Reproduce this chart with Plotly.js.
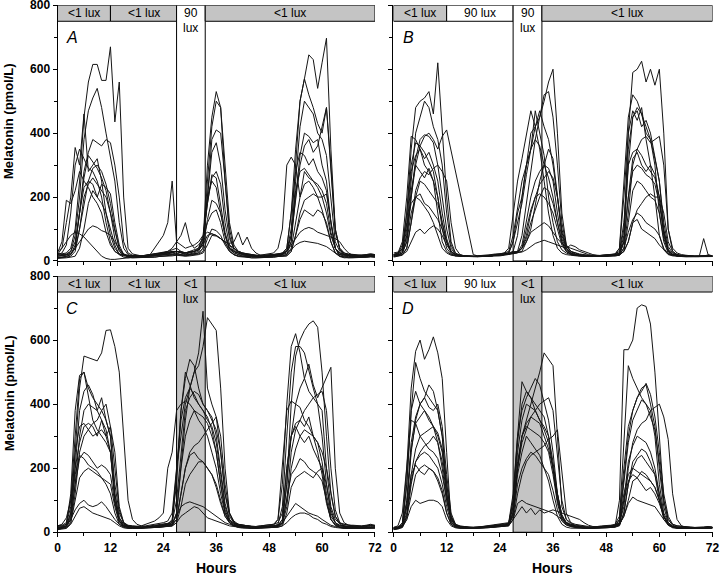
<!DOCTYPE html>
<html><head><meta charset="utf-8">
<script src="https://cdn.plot.ly/plotly-3.0.1.min.js"></script>
<style>html,body{margin:0;padding:0;background:#fff}#chart{width:720px;height:575px}</style>
</head><body><div id="chart"></div>
<script>
// ---------------- DATA ----------------
const hours = [0,1,2,3,4,5,6,7,8,9,10,11,12,13,14,15,16,17,18,19,20,21,22,23,24,25,26,27,28,29,30,31,32,33,34,35,36,37,38,39,40,41,42,43,44,45,46,47,48,49,50,51,52,53,54,55,56,57,58,59,60,61,62,63,64,65,66,67,68,69,70,71,72];
const xTicks = [0,12,24,36,48,60,72];
const yTicks = [0,200,400,600,800];
const panelLetters = ['A','B','C','D'];
const lightA = ['<1','<1','90','<1'];
const lightB = ['<1','90','90','<1'];
const lightC = ['<1','<1','<1','<1'];
const lightD = ['<1','90','<1','<1'];
const segEdges = [0,12,27,33.5,72];

// Panel A subjects (pmol/L, hourly)
const A1 = [20,22,25,40,100,250,450,560,615,615,565,565, 670,435,560,200,40,22,18,16,15,15,16,18, 20,22,25,30,25,20,22,25,30,60,300,450, 530,480,300,120,50,30,25,22,20,18,16,15, 15,16,18,20,30,100,300,500,570,645,630,540, 620,697,350,100,40,25,22,20,18,18,20,22,20];
const A2 = [15,18,20,30,80,200,380,470,510,540,480,400, 330,250,120,40,20,15,15,14,14,15,16,18, 18,20,22,25,20,18,20,22,25,40,250,420, 500,480,250,80,35,25,20,18,16,15,15,16, 16,18,20,22,40,150,350,500,570,520,480,430, 400,480,300,90,40,25,20,18,16,16,18,20,18];
const A3 = [25,20,22,30,60,150,280,340,380,370,360,380, 370,300,200,60,25,18,16,15,15,16,18,20, 22,25,28,30,26,22,25,30,35,50,200,380, 410,400,260,100,40,28,22,20,18,18,16,16, 16,18,20,22,30,60,250,420,500,480,460,400, 380,330,200,60,30,20,18,16,16,15,18,20,18];
const A4 = [20,40,120,200,355,300,460,280,300,320,250,150, 80,40,22,18,16,15,15,16,18,20,22,25, 28,30,35,40,30,25,28,30,40,70,180,270, 260,180,90,40,25,20,18,16,15,15,16,18, 18,20,22,25,30,80,200,300,360,380,340,360, 420,480,300,100,35,22,20,18,18,16,18,20,18];
const A5 = [25,60,190,180,220,280,250,230,200,180,150,90, 50,30,22,18,16,15,15,16,18,20,22,25, 25,28,30,30,28,25,30,35,40,80,200,250, 230,150,80,40,30,25,22,20,18,16,18,20, 22,25,40,100,300,325,300,200,280,260,250,230, 200,150,80,40,25,20,18,16,16,15,16,18,16];
const A6 = [30,40,60,80,90,85,75,60,45,30,15,8, 5,5,6,8,10,12,14,15,16,18,20,22, 24,25,28,30,28,26,28,30,35,50,80,85, 80,70,60,50,40,30,25,20,18,16,15,14, 15,16,18,20,25,35,50,58,62,60,58,55, 50,45,35,25,20,18,16,15,15,14,15,16,15];
const A7 = [15,16,18,25,40,60,80,100,110,105,95,90, 80,60,35,20,15,14,14,15,16,18,20,22, 25,30,40,60,50,40,45,50,60,80,90,85, 80,70,60,55,60,90,50,75,40,25,18,16, 16,18,20,22,30,50,70,90,100,105,100,90, 85,80,75,70,60,40,25,18,16,15,16,18,16];
const A8 = [12,12,15,20,40,150,260,330,310,290,260,220, 150,70,30,18,15,14,14,14,15,15,16,18, 18,20,20,22,20,18,20,22,25,40,130,190, 180,150,80,35,20,16,14,14,14,13,13,14, 14,15,15,16,20,60,200,330,400,390,370,380, 300,250,120,40,20,15,14,14,13,13,14,15,14];
const A9 = [10,10,12,15,30,100,200,240,260,240,220,200, 150,90,40,20,14,12,12,12,14,20,40,60, 80,120,250,60,80,120,60,40,50,70,120,150, 160,120,60,30,20,15,14,13,12,12,12,14, 14,15,16,18,20,40,120,200,240,250,230,200, 160,110,60,25,15,13,12,12,12,12,13,14,13];
const A10 = [8,8,10,12,15,40,100,180,220,200,240,230, 210,120,50,20,12,10,10,10,10,12,12,14, 15,16,18,20,18,16,18,20,22,30,70,100, 95,80,50,30,20,14,12,12,10,10,10,12, 12,12,14,15,16,30,80,150,190,200,210,200, 200,210,120,40,15,12,10,10,10,10,12,14,12];
const A11 = [18,18,20,22,40,100,180,250,290,300,280,240, 180,100,40,22,18,16,16,16,18,20,22,22, 24,26,28,30,28,26,28,30,35,60,200,340, 370,300,160,70,40,30,25,22,20,18,18,18, 18,20,22,24,30,80,220,280,290,270,250,240, 220,180,90,40,25,20,18,18,18,18,20,22,20];
const A12 = [10,12,14,20,50,150,230,250,240,200,180,150, 100,50,20,12,10,10,10,10,10,12,12,14, 14,15,16,18,16,15,16,18,20,25,50,80, 78,70,55,40,30,20,15,12,10,10,10,12, 12,12,14,15,16,30,80,130,160,150,140,160, 150,120,60,25,14,10,10,10,10,10,12,14,12];
const A13 = [20,25,50,150,300,350,320,290,280,250,200,120, 60,30,20,16,15,14,14,15,16,18,20,22, 24,26,28,30,28,25,28,30,35,60,180,260, 280,240,120,50,30,25,20,18,16,15,15,16, 18,20,22,25,40,150,280,340,330,300,320,280, 260,220,120,40,20,18,16,16,15,15,16,18,16];

// Panel B subjects
const B1 = [20,25,40,150,350,480,500,510,530,460,620,420, 200,60,25,18,16,15,14,14,15,16,18,20, 20,22,25,60,150,200,300,400,420,450,500,560, 600,400,150,50,30,25,22,20,18,16,15,15, 15,16,18,20,80,400,590,600,625,560,600,550, 600,400,100,40,25,20,18,16,15,15,16,18,16];
const B2 = [15,18,25,80,200,300,360,390,400,380,350,390, 410,null,null,null,null,null,20,16,15,15,16,18, 18,20,22,30,80,200,300,350,420,470,420,380, 300,200,80,40,25,20,18,16,15,15,16,18, 18,20,20,22,60,300,450,470,420,440,400,330, 250,120,45,25,20,18,16,16,15,15,16,18,16];
const B3 = [20,22,30,100,250,400,450,500,480,420,380,300, 150,50,22,18,16,15,14,14,15,15,16,18, 18,20,22,25,30,80,180,280,380,450,520,530, 450,300,120,50,30,25,20,18,16,15,15,16, 16,18,20,25,100,350,450,480,460,420,380,320, 250,100,35,22,18,16,15,15,14,14,15,16,15];
const B4 = [18,20,25,60,200,320,380,395,390,370,300,200, 100,40,20,16,15,14,14,14,15,15,16,18, 20,22,25,30,28,50,120,200,250,280,300,290, 250,150,70,35,25,20,18,16,15,15,14,15, 15,16,18,20,40,150,300,350,380,390,370,380, 390,300,100,30,20,16,15,15,14,14,15,16,15];
const B5 = [25,28,35,120,280,330,350,320,340,300,250,150, 70,30,20,18,16,15,15,16,16,18,20,22, 22,25,30,80,170,250,300,350,380,360,300,260, 200,120,60,30,22,20,18,16,15,15,16,18, 18,20,22,30,120,300,340,350,330,300,280,260, 200,90,35,20,18,16,15,15,15,15,16,18,16];
const B6 = [15,16,20,40,120,220,260,280,270,290,300,280, 250,120,40,20,16,15,14,14,15,15,16,18, 18,20,22,25,28,40,80,150,200,240,260,280, 260,200,100,45,30,22,18,16,15,15,16,18, 18,20,20,25,60,200,320,340,300,280,300,270, 200,80,30,20,16,15,14,14,14,14,15,16,15];
const B7 = [12,14,18,40,120,200,250,240,220,200,180,120, 60,30,18,15,14,13,13,13,14,14,15,16, 16,18,20,22,25,40,100,160,200,210,200,180, 150,100,50,30,22,18,16,15,14,14,14,15, 15,16,16,18,30,120,220,250,240,220,200,190, 150,70,30,20,16,14,13,13,13,13,14,15,14];
const B8 = [15,18,25,60,150,200,210,180,170,150,130,100, 60,30,18,16,15,14,14,14,15,15,16,18, 18,20,22,25,28,30,60,90,100,110,120,110, 90,70,55,45,40,35,30,25,20,18,16,16, 16,18,18,20,30,60,120,160,180,200,210,200, 200,150,60,30,20,16,15,15,14,14,15,16,15];
const B9 = [15,18,20,30,60,90,100,85,100,110,100,80, 50,30,20,16,15,14,14,14,15,15,16,18, 18,20,22,24,26,28,35,45,55,60,65,60, 55,50,45,40,50,45,35,30,25,20,18,16, 16,18,18,20,30,60,120,130,100,90,80,70, 50,35,22,18,16,15,14,14,14,14,70,20,16];
const B10 = [20,25,60,200,390,380,350,300,280,250,150,60, 30,20,16,15,14,14,14,15,15,16,18,20, 20,22,25,60,120,180,270,350,470,400,330,200, 120,60,35,25,20,18,16,15,15,15,16,18, 18,20,22,40,200,400,470,440,480,380,300,200, 80,35,20,16,15,14,14,14,14,14,15,16,15];
const B11 = [18,20,40,150,300,370,360,340,310,280,200,100, 40,22,16,15,14,14,14,15,15,16,18,20, 22,25,40,150,250,320,400,470,420,350,250,150, 80,40,25,20,18,16,15,15,14,14,15,16, 16,18,20,40,250,450,520,500,460,400,380,300, 150,60,25,18,16,15,14,14,14,14,15,16,15];
const B12 = [16,18,25,80,220,300,280,260,290,250,200,120, 60,25,18,15,14,14,14,14,15,15,16,18, 18,20,22,25,30,40,70,120,160,200,230,220, 180,120,60,30,22,18,16,15,15,14,14,15, 15,16,16,18,60,200,280,300,290,270,260,240, 180,90,35,20,16,15,14,14,14,14,15,16,15];
const B13 = [20,22,50,120,180,200,190,170,150,120,80,40, 25,18,16,15,14,14,14,14,15,15,16,18, 18,20,22,25,30,40,60,100,180,250,300,350, 320,200,90,40,25,20,18,16,15,15,15,16, 16,18,18,20,40,90,130,150,140,120,110,100, 80,40,22,18,16,15,14,14,14,14,15,16,15];

// Panel C subjects
const C1 = [15,15,20,60,250,450,550,545,540,535,560,630, 632,580,500,300,100,40,25,20,18,16,15,15, 16,18,20,60,200,350,450,500,520,580,670,650, 630,450,200,60,30,25,22,20,18,16,15,15, 15,16,18,30,150,400,550,600,630,650,660,640, 500,300,120,50,30,25,22,20,18,18,20,22,20];
const C2 = [20,22,30,100,300,480,500,450,420,400,380,350, 300,150,60,30,22,20,18,18,20,22,25,28, 30,35,60,200,300,400,450,500,560,690,450,400, 360,250,120,60,35,25,22,20,18,18,20,22, 22,25,40,150,400,580,620,560,480,440,420,400, 380,200,80,40,28,25,22,22,20,20,22,25,22];
const C3 = [12,14,18,50,200,380,440,460,430,380,350,300, 250,100,40,22,18,16,15,15,16,18,20,22, 22,25,40,150,380,480,540,520,450,400,380,360, 300,200,90,40,25,20,18,16,15,15,16,18, 18,20,25,80,300,500,580,580,560,500,450,400, 300,150,60,30,20,18,16,16,15,15,16,18,16];
const C4 = [15,16,20,40,150,300,380,400,390,380,420,350, 300,120,45,25,18,16,15,15,16,18,20,22, 24,26,30,100,250,380,420,440,430,400,380,350, 320,250,120,50,30,25,22,20,18,16,16,18, 18,20,22,40,150,300,400,450,480,525,460,420, 450,480,515,200,60,30,22,20,18,18,20,22,20];
const C5 = [10,12,15,30,120,250,300,320,340,350,380,400, 330,200,70,30,18,15,14,14,15,16,18,20, 20,22,25,60,200,300,350,380,370,360,340,300, 250,150,70,35,22,18,16,15,14,14,15,16, 16,18,20,30,100,250,320,350,380,400,420,430, 440,380,200,70,30,20,16,15,14,14,15,16,15];
const C6 = [18,20,25,80,250,330,340,320,300,310,320,300, 330,250,80,30,20,18,16,16,18,20,22,25, 25,28,35,200,350,420,450,430,400,380,350,330, 280,180,80,40,28,22,20,18,16,16,18,20, 20,22,40,200,380,410,400,390,350,330,300,280, 220,120,50,30,22,20,18,18,16,16,18,20,18];
const C7 = [12,14,18,40,150,230,250,240,220,200,210,200, 180,90,35,20,15,14,13,13,14,15,16,18, 18,20,22,40,120,200,250,270,280,300,320,340, 360,300,150,60,30,22,18,16,15,14,14,15, 15,16,18,25,80,200,260,300,320,310,300,280, 250,200,120,50,25,18,15,14,14,14,15,16,15];
const C8 = [15,16,20,60,180,240,230,210,200,190,170,160, 150,80,30,18,15,14,14,14,15,16,18,20, 20,22,25,40,120,200,240,250,230,220,200,180, 150,100,50,30,22,18,16,15,14,14,15,16, 16,18,20,30,100,180,200,230,220,200,190,180, 160,100,40,22,16,15,14,14,14,14,15,16,15];
const C9 = [10,12,14,30,100,170,190,200,190,180,170,150, 120,60,25,15,12,12,12,12,13,14,15,16, 16,18,20,30,80,150,180,200,220,220,200,180, 140,90,50,30,20,15,13,12,12,12,13,14, 14,15,16,20,60,140,170,180,190,180,170,190, 200,150,70,30,15,12,12,12,12,12,13,14,13];
const C10 = [10,12,20,40,70,90,100,85,80,85,95,80, 60,40,25,18,15,14,14,14,15,16,18,20, 20,25,30,50,80,90,95,90,85,80,70,60, 50,40,30,25,20,18,16,15,14,14,15,16, 16,18,20,30,50,70,90,80,70,60,55,50, 40,30,22,18,15,14,14,14,13,13,14,15,14];
const C11 = [8,10,12,25,50,75,80,70,60,55,50,45, 40,30,20,14,12,12,12,12,13,14,15,16, 16,18,20,30,50,60,70,80,75,60,45,40, 35,30,25,20,18,16,14,13,12,12,13,14, 14,15,16,20,30,45,55,60,60,55,45,40, 30,25,18,15,13,12,12,12,12,12,13,14,13];
const C12 = [15,18,25,120,380,490,500,420,350,320,300,280, 250,100,35,20,16,15,14,14,15,16,18,20, 20,22,30,180,380,500,460,420,400,380,360,320, 250,150,60,30,20,16,15,14,14,14,15,16, 16,18,20,40,200,300,330,300,280,300,260,230, 200,100,40,22,16,15,14,14,14,14,15,16,15];
const C13 = [20,25,45,100,200,280,330,340,330,300,350,320, 250,120,45,25,20,18,18,20,25,30,35,45, 60,200,250,380,400,410,400,380,350,330,300,250, 200,120,60,35,25,22,20,18,18,18,20,22, 22,25,30,60,200,300,340,350,330,360,300,250, 180,90,40,25,20,18,18,18,18,18,20,22,20];

// Panel D subjects
const D1 = [10,12,20,200,450,565,600,540,570,610,560,480, 250,30,20,18,16,15,15,16,16,18,20,22, 20,22,24,60,200,300,350,400,450,500,560,540, 520,300,80,40,30,25,22,20,18,16,15,15, 15,16,18,100,570,570,600,700,710,705,650,500, 300,100,40,25,20,18,16,16,15,15,16,18,16];
const D2 = [12,15,30,150,380,530,480,440,420,400,380,300, 120,40,22,18,16,15,15,16,16,18,20,22, 22,24,28,100,300,470,440,420,400,380,360,300, 200,100,50,30,22,20,18,16,15,15,16,18, 18,20,22,40,300,520,480,450,420,400,380,300, 150,60,30,20,16,15,15,15,14,14,15,16,15];
const D3 = [15,16,25,100,280,360,400,420,460,440,380,300, 150,50,25,20,18,16,16,16,18,20,22,24, 24,26,30,120,300,380,420,450,480,460,400,350, 250,120,50,30,25,22,20,18,16,16,18,20, 20,22,25,50,200,330,380,420,440,465,430,360, 250,120,50,25,20,18,16,16,15,15,16,18,16];
const D4 = [10,12,20,150,380,440,400,380,350,330,280,200, 100,35,18,15,14,13,13,14,14,15,16,18, 18,20,22,80,250,350,400,390,380,350,320,280, 200,100,45,25,18,15,14,13,13,13,14,15, 15,16,18,40,180,300,380,420,450,460,400,330, 200,80,30,18,14,13,13,13,13,13,14,15,14];
const D5 = [12,14,20,80,250,350,400,420,390,380,400,330, 180,60,25,18,15,14,14,14,15,16,18,20, 20,22,26,100,280,400,440,420,380,350,330,300, 220,120,50,28,20,16,15,14,14,14,15,16, 16,18,20,30,150,280,350,380,413,400,360,320, 220,100,40,22,16,15,14,14,14,14,15,16,15];
const D6 = [14,16,22,90,260,340,360,380,360,330,300,250, 120,45,22,18,16,15,14,14,15,16,18,20, 20,22,24,60,200,300,340,360,350,340,300,260, 200,120,55,30,22,18,16,15,14,14,15,16, 16,18,20,28,80,200,280,320,340,350,380,390, 400,360,290,120,40,20,16,15,14,14,15,16,15];
const D7 = [10,12,15,50,180,260,300,310,320,330,310,260, 150,50,22,16,14,13,13,13,14,15,16,18, 18,20,22,60,200,280,320,360,380,400,410,420, 380,250,100,40,25,18,15,14,13,13,14,15, 15,16,18,25,100,220,270,300,290,280,250,200, 120,50,25,16,14,13,13,13,13,13,14,15,14];
const D8 = [12,14,18,40,150,220,250,270,280,300,280,220, 120,45,20,16,14,13,13,13,14,15,16,18, 18,20,22,40,120,180,220,240,250,260,270,290, 300,320,200,60,30,20,16,14,13,13,14,15, 15,16,18,22,60,150,220,240,260,250,220,180, 100,40,22,16,14,13,13,13,13,13,14,15,14];
const D9 = [15,16,20,60,160,220,240,250,240,220,200,150, 80,30,18,16,15,14,14,15,15,16,18,20, 20,22,24,50,150,200,230,250,240,220,200,180, 130,70,35,22,18,16,15,14,14,14,15,16, 16,18,20,30,120,180,200,190,180,170,160,140, 100,50,25,18,15,14,14,14,14,14,15,16,15];
const D10 = [10,12,18,80,180,210,190,180,200,190,160,120, 60,25,15,13,12,12,12,12,13,14,15,16, 16,18,20,60,180,250,300,280,260,240,200,160, 100,50,25,16,13,12,12,12,12,12,13,14, 14,15,16,20,60,150,200,230,240,220,200,180, 120,50,22,14,12,12,12,12,12,12,13,14,13];
const D11 = [8,10,15,40,80,100,90,95,100,100,95,80, 40,20,14,12,12,12,12,12,13,14,15,16, 16,18,20,40,90,100,90,85,80,75,70,65, 60,50,40,30,22,18,15,13,12,12,13,14, 14,15,16,25,50,90,110,100,95,90,85,80, 60,40,25,16,13,12,12,12,12,12,13,14,13];
const D12 = [12,14,18,50,120,180,200,210,200,190,170,130, 60,25,16,14,13,13,13,13,14,15,16,18, 18,20,22,40,60,80,60,75,55,70,60,65, 70,65,60,55,50,45,40,30,22,18,16,16, 16,18,20,25,50,100,160,170,150,130,140,120, 90,50,25,18,14,13,13,13,13,13,14,15,14];
const D13 = [15,20,60,200,350,340,300,280,260,250,230,180, 100,40,22,18,16,15,15,15,16,18,20,22, 22,24,28,80,220,300,330,320,310,300,280,250, 180,90,40,25,20,18,16,15,15,15,16,18, 18,20,22,30,100,160,180,170,190,180,160,140, 100,50,25,18,16,15,15,15,14,14,15,16,15];

const panelA = [A1,A2,A3,A4,A5,A6,A7,A8,A9,A10,A11,A12,A13];
const panelB = [B1,B2,B3,B4,B5,B6,B7,B8,B9,B10,B11,B12,B13];
const panelC = [C1,C2,C3,C4,C5,C6,C7,C8,C9,C10,C11,C12,C13];
const panelD = [D1,D2,D3,D4,D5,D6,D7,D8,D9,D10,D11,D12,D13];

// ---------------- LAYOUT ----------------
const FONT = 'Liberation Sans, Arial, sans-serif';
const GRAY = '#c4c4c4';
const panels = [
  {series: panelA, light: lightA, xa: 'x',  ya: 'y',  xd: [0.0799, 0.5208], yd: [0.5461, 0.9908], xlab: false, ylab: true},
  {series: panelB, light: lightB, xa: 'x2', ya: 'y2', xd: [0.5465, 0.9896], yd: [0.5461, 0.9908], xlab: false, ylab: false},
  {series: panelC, light: lightC, xa: 'x3', ya: 'y3', xd: [0.0799, 0.5208], yd: [0.0743, 0.5200], xlab: true,  ylab: true},
  {series: panelD, light: lightD, xa: 'x4', ya: 'y4', xd: [0.5465, 0.9896], yd: [0.0743, 0.5200], xlab: true,  ylab: false}
];

const data = [];
const shapes = [];
const annotations = [];
const layout = {
  width: 720, height: 575,
  margin: {l: 0, r: 0, t: 0, b: 0},
  paper_bgcolor: '#fff', plot_bgcolor: '#fff',
  showlegend: false,
  font: {family: FONT, color: '#000'}
};

panels.forEach((p, i) => {
  p.series.forEach(s => {
    data.push({x: hours, y: s, xaxis: p.xa, yaxis: p.ya, type: 'scatter', mode: 'lines',
      connectgaps: true, hoverinfo: 'skip',
      line: {color: '#151515', width: 1}});
  });
  const xk = p.xa === 'x' ? 'xaxis' : 'xaxis' + p.xa.slice(1);
  const yk = p.ya === 'y' ? 'yaxis' : 'yaxis' + p.ya.slice(1);
  layout[xk] = {
    domain: p.xd, anchor: p.ya, range: [0, 72],
    tickmode: 'array', tickvals: xTicks, showticklabels: p.xlab,
    ticks: 'outside', ticklen: 4, tickwidth: 1, tickcolor: '#000',
    minor: {dtick: 6, tick0: 0, ticks: 'outside', ticklen: 3, tickwidth: 1, tickcolor: '#000', showgrid: false},
    showline: true, linecolor: '#000', linewidth: 1,
    showgrid: false, zeroline: false, fixedrange: true, ticklabeloverflow: 'allow',
    tickfont: {family: FONT, size: 12, color: '#000', weight: 'bold'}
  };
  layout[yk] = {
    domain: p.yd, anchor: p.xa, range: [0, 800],
    tickmode: 'array', tickvals: yTicks, showticklabels: p.ylab,
    ticks: 'outside', ticklen: 4, tickwidth: 1, tickcolor: '#000',
    minor: {dtick: 100, tick0: 0, ticks: 'outside', ticklen: 3, tickwidth: 1, tickcolor: '#000', showgrid: false},
    showline: true, linecolor: '#000', linewidth: 1,
    showgrid: false, zeroline: false, fixedrange: true, ticklabeloverflow: 'allow',
    tickfont: {family: FONT, size: 12, color: '#000', weight: 'bold'}
  };

  // lighting header bars
  p.light.forEach((lv, k) => {
    const x0 = segEdges[k], x1 = segEdges[k + 1];
    const fill = lv === '<1' ? GRAY : '#ffffff';
    const column = (k === 2);
    shapes.push({type: 'rect', xref: p.xa, yref: p.ya, x0: x0, x1: x1,
      y0: column ? 0 : 750, y1: 800, fillcolor: fill, layer: 'below',
      line: {color: '#000', width: 1}});
    const cx = (x0 + x1) / 2;
    if (column) {
      annotations.push({xref: p.xa, yref: p.ya, x: cx, y: 775, text: lv, showarrow: false,
        xanchor: 'center', yanchor: 'middle', font: {family: FONT, size: 12, color: '#000'}});
      annotations.push({xref: p.xa, yref: p.ya, x: cx, y: 729, text: 'lux', showarrow: false,
        xanchor: 'center', yanchor: 'middle', font: {family: FONT, size: 12, color: '#000'}});
    } else {
      annotations.push({xref: p.xa, yref: p.ya, x: cx, y: 775, text: lv + ' lux', showarrow: false,
        xanchor: 'center', yanchor: 'middle', font: {family: FONT, size: 12, color: '#000'}});
    }
  });

  // panel letter
  annotations.push({xref: p.xa, yref: p.ya, x: 3.3, y: 700, text: '<i>' + panelLetters[i] + '</i>',
    showarrow: false, xanchor: 'center', yanchor: 'middle', font: {family: FONT, size: 16, color: '#000'}});
});

// axis titles
[0.7896, 0.3165].forEach(yc => {
  annotations.push({xref: 'paper', yref: 'paper', x: 0.0125, y: yc, text: '<b>Melatonin (pmol/L)</b>',
    textangle: -90, showarrow: false, xanchor: 'center', yanchor: 'middle',
    font: {family: FONT, size: 13, color: '#000'}});
});
[0.3, 0.768].forEach(xc => {
  annotations.push({xref: 'paper', yref: 'paper', x: xc, y: 0.0122, text: '<b>Hours</b>',
    showarrow: false, xanchor: 'center', yanchor: 'middle',
    font: {family: FONT, size: 14, color: '#000'}});
});

layout.shapes = shapes;
layout.annotations = annotations;

Plotly.newPlot('chart', data, layout, {staticPlot: true, displayModeBar: false});
</script>
</body></html>
